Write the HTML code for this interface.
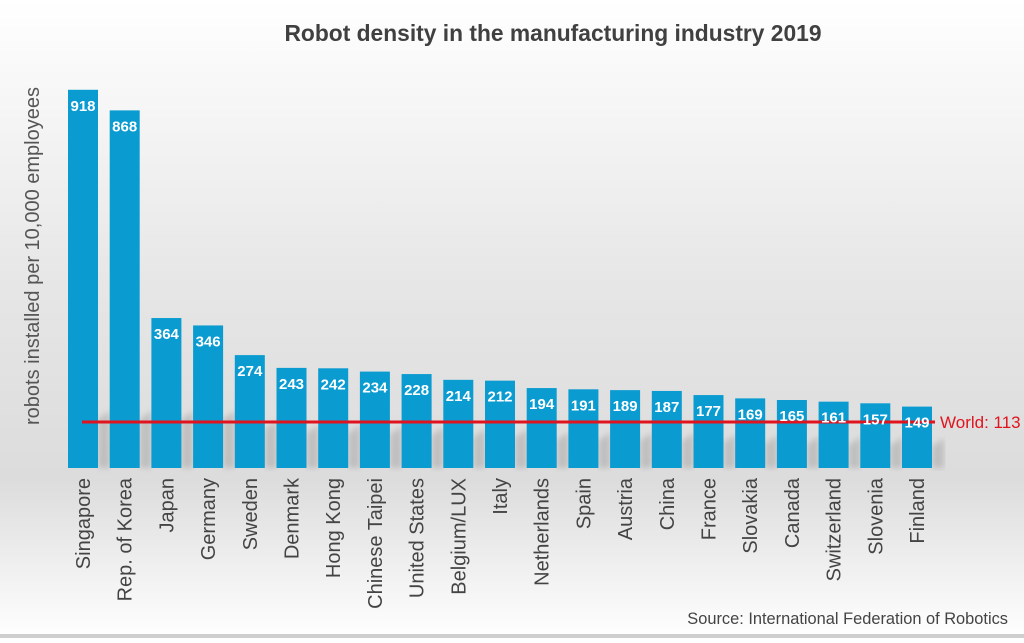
<!DOCTYPE html>
<html><head><style>
html,body{margin:0;padding:0;}
body{width:1024px;height:638px;overflow:hidden;font-family:"Liberation Sans",sans-serif;}
</style></head><body>
<svg width="1024" height="638" xmlns="http://www.w3.org/2000/svg">
<defs>
<linearGradient id="bg" x1="0" y1="0" x2="0" y2="1">
<stop offset="0" stop-color="#ffffff"/>
<stop offset="0.45" stop-color="#e6e6e6"/>
<stop offset="0.75" stop-color="#dcdcdc"/>
<stop offset="1" stop-color="#ffffff"/>
</linearGradient>
<filter id="bl"><feGaussianBlur stdDeviation="3"/></filter>
</defs>
<rect width="1024" height="638" fill="url(#bg)"/>
<rect x="0" y="634" width="1024" height="4" fill="#cfcfcf"/>
<text x="553" y="41" text-anchor="middle" font-size="22.8" font-weight="bold" fill="#404040">Robot density in the manufacturing industry 2019</text>
<text transform="translate(39,256) rotate(-90)" text-anchor="middle" font-size="20" fill="#555">robots installed per 10,000 employees</text>
<g id="bars"></g>
<text x="940" y="428" font-size="17" fill="#e0141e">World: 113</text>
<text x="1008" y="624" text-anchor="end" font-size="16.4" fill="#444">Source: International  Federation of Robotics</text>
</svg>
<script>
var d=[["Singapore",918],["Rep. of Korea",868],["Japan",364],["Germany",346],["Sweden",274],["Denmark",243],["Hong Kong",242],["Chinese Taipei",234],["United States",228],["Belgium/LUX",214],["Italy",212],["Netherlands",194],["Spain",191],["Austria",189],["China",187],["France",177],["Slovakia",169],["Canada",165],["Switzerland",161],["Slovenia",157],["Finland",149]];
var g=document.getElementById('bars');
var sh='',bars='',vals='',lab='';
d.forEach(function(e,i){
 var x=68+i*41.7,h=e[1]*0.412,t=468-h;
 var sh_h=Math.min(h,140);
 sh+='<polygon points="'+(x+30)+',468 '+(x+30)+','+(468-sh_h*0.35)+' '+(x+42)+','+(468-sh_h*0.35-8)+' '+(x+42)+',468" fill="#888" opacity="0.35" filter="url(#bl)"/>';
 bars+='<rect x="'+x+'" y="'+t+'" width="30" height="'+h+'" fill="#0a9bd0"/>';
 vals+='<text x="'+(x+15)+'" y="'+(t+21)+'" text-anchor="middle" font-size="15" font-weight="bold" fill="#fff">'+e[1]+'</text>';
 lab+='<text transform="translate('+(x+22)+',478) rotate(-90)" text-anchor="end" font-size="20" fill="#444">'+e[0]+'</text>';
});
g.innerHTML=sh+bars+'<line x1="82" y1="422" x2="935" y2="422" stroke="#e0141e" stroke-width="3"/>'+vals+lab;
</script>
</body></html>
